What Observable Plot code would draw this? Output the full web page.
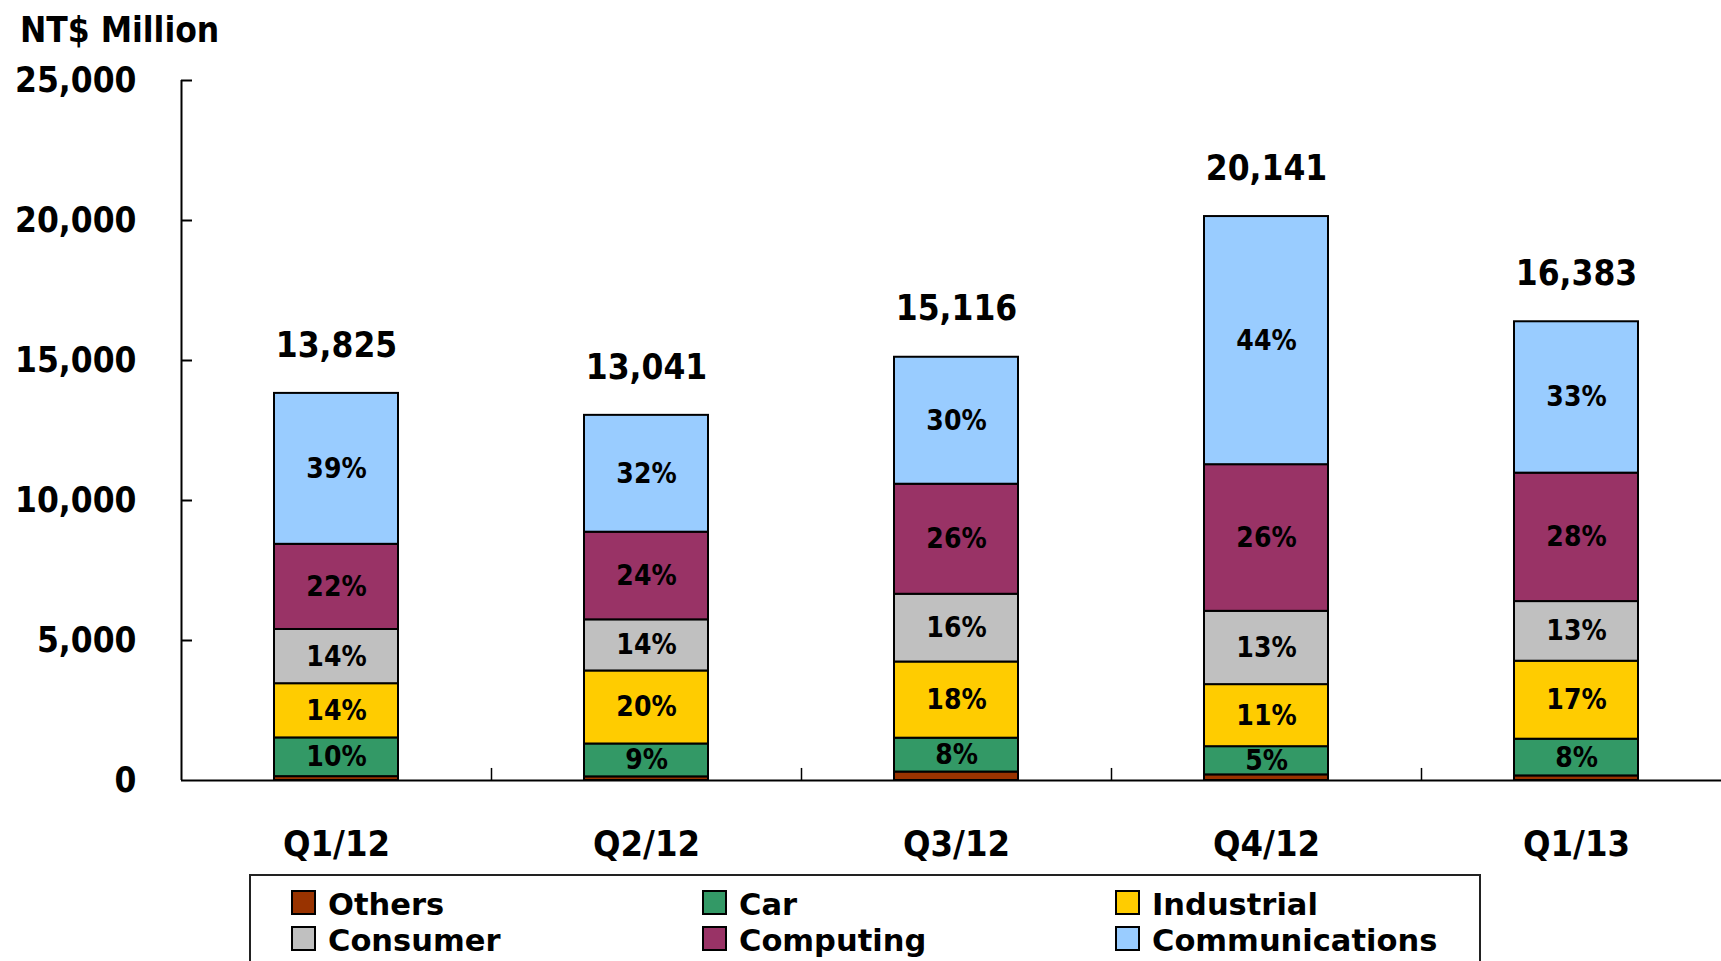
<!DOCTYPE html>
<html><head><meta charset="utf-8">
<script src="https://cdn.jsdelivr.net/npm/d3@7"></script>
<script src="https://cdn.jsdelivr.net/npm/@observablehq/plot@0.6"></script>
<style>
html,body{margin:0;padding:0;background:#fff;overflow:hidden}
#wrap{position:relative;width:1721px;height:961px;font-family:"DejaVu Sans Condensed","DejaVu Sans",sans-serif;font-stretch:condensed;font-weight:bold;color:#000}
#title{position:absolute;left:20px;top:13px;font-size:35px;line-height:35px;white-space:nowrap}
#chart{position:absolute;left:0;top:0}
#legend{position:absolute;left:249px;top:874px;width:1232px;height:130px;border:2px solid #222;box-sizing:border-box}
.item{position:absolute;height:36px;line-height:36px;font-size:30.5px;white-space:nowrap;font-family:"DejaVu Sans",sans-serif;font-stretch:normal}
.sw{display:inline-block;width:25px;height:25px;border:2px solid #000;box-sizing:border-box;margin-right:12px}
</style>
</head><body>
<div id="wrap">
  <div id="chart"></div>
  <div id="title">NT$ Million</div>
  <div id="legend"></div>
</div>
<script>
const quarters = ["Q1/12","Q2/12","Q3/12","Q4/12","Q1/13"];
const segments = ["Others","Car","Industrial","Consumer","Computing","Communications"];
const colors = ["#993300","#339966","#FFCC00","#C0C0C0","#993366","#99CCFF"];

const others         = [138, 130, 302, 201, 164];
const car            = [1383, 1174, 1209, 1007, 1311];
const industrial     = [1936, 2608, 2721, 2216, 2785];
const consumer       = [1936, 1826, 2419, 2618, 2130];
const computing      = [3042, 3130, 3930, 5237, 4587];
const communications = [5390, 4173, 4535, 8862, 5406];
const totals         = [13825, 13041, 15116, 20141, 16383];

const pctOthers         = ["", "", "", "", ""];
const pctCar            = ["10%", "9%", "8%", "5%", "8%"];
const pctIndustrial     = ["14%", "20%", "18%", "11%", "17%"];
const pctConsumer       = ["14%", "14%", "16%", "13%", "13%"];
const pctComputing      = ["22%", "24%", "26%", "26%", "28%"];
const pctCommunications = ["39%", "32%", "30%", "44%", "33%"];

const yTicks = [0, 5000, 10000, 15000, 20000, 25000];

const series = [others, car, industrial, consumer, computing, communications];
const pcts = [pctOthers, pctCar, pctIndustrial, pctConsumer, pctComputing, pctCommunications];

const rows = [];
quarters.forEach((q, i) => {
  segments.forEach((s, j) => {
    rows.push({quarter: q, segment: s, value: series[j][i], pct: pcts[j][i]});
  });
});
const totalRows = quarters.map((q, i) => ({quarter: q, total: totals[i]}));

const W = 1721, ML = 181;
const font = '"DejaVu Sans Condensed","DejaVu Sans",sans-serif';
const fmt = d3.format(",");

const chart = Plot.plot({
  width: W, height: 870,
  marginLeft: ML, marginRight: 0, marginTop: 80, marginBottom: 90,
  style: {fontFamily: font, fontWeight: "bold", fontStretch: "condensed", background: "transparent", overflow: "visible", color: "#000"},
  x: {domain: quarters, range: [181, 1731], paddingInner: 0.6, paddingOuter: 0.3, label: null},
  y: {domain: [0, 25000], label: null},
  color: {domain: segments, range: colors},
  marks: [
    Plot.barY(rows, {x: "quarter", y: "value", z: "segment", fill: "segment", stroke: "#000", strokeWidth: 2}),
    Plot.text(rows, Plot.stackY({x: "quarter", y: "value", z: "segment", text: "pct", fontSize: 28, fill: "#000"})),
    Plot.text(totalRows, {x: "quarter", y: "total", text: d => fmt(d.total), dy: -48, fontSize: 35, fill: "#000"}),
    Plot.ruleY([0], {stroke: "#000", strokeWidth: 2}),
    Plot.ruleX([quarters[0]], {dx: -155, y1: 0, y2: 25000, stroke: "#000", strokeWidth: 2}),
    Plot.ruleY(yTicks.slice(1), {insetRight: W - ML - 11, stroke: "#000", strokeWidth: 2}),
    Plot.ruleX(quarters.slice(1), {dx: -155, y1: 0, y2: 430, stroke: "#000", strokeWidth: 1.5}),
    Plot.axisY({ticks: yTicks, tickSize: 0, tickPadding: 45, tickFormat: fmt, fontSize: 35, fill: "#000"}),
    Plot.axisX({tickSize: 0, tickPadding: 50, fontSize: 36, fill: "#000"})
  ]
});
document.getElementById("chart").appendChild(chart);

const legend = document.getElementById("legend");
const colLeft = [40, 451, 864];
const rowTop = [11, 47];
segments.forEach((s, j) => {
  const it = document.createElement("div");
  it.className = "item";
  it.style.left = colLeft[j % 3] + "px";
  it.style.top = rowTop[Math.floor(j / 3)] + "px";
  const sw = document.createElement("span");
  sw.className = "sw";
  sw.style.background = colors[j];
  it.appendChild(sw);
  it.appendChild(document.createTextNode(s));
  legend.appendChild(it);
});
</script>
</body></html>
